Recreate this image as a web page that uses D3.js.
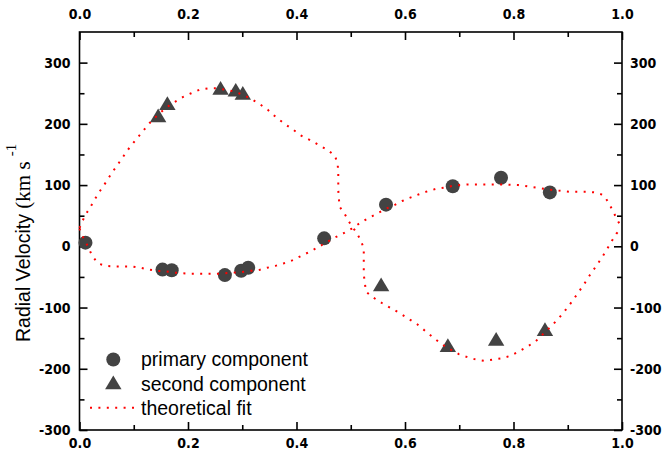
<!DOCTYPE html>
<html>
<head>
<meta charset="utf-8">
<script src="https://cdn.jsdelivr.net/npm/d3@7"></script>
<style>
  html, body { margin: 0; padding: 0; background: #fff; }
  svg { display: block; }
  .tick text { font-family: "Liberation Sans Narrow", "Arial Narrow", "DejaVu Sans Condensed", sans-serif; font-weight: bold; font-size: 14px; fill: #000; }
  .ttl-sans { font-family: "Liberation Sans", Arial, sans-serif; }
  .ttl-serif { font-family: "Liberation Serif", "Times New Roman", "DejaVu Serif", serif; }
</style>
</head>
<body>
<svg id="chart" width="663" height="456"></svg>
<script>
// Orbital phase / radial velocity measurements
const primaryPhase = [0.011, 0.153, 0.170, 0.268, 0.298, 0.311, 0.451, 0.565, 0.688, 0.777, 0.867];
const primaryRV    = [6, -38, -39, -47, -40, -35, 13, 68, 98, 112, 88];

const secondPhase = [0.145, 0.162, 0.260, 0.288, 0.301, 0.556, 0.679, 0.768, 0.858];
const secondRV    = [211, 231, 256, 253, 248, -65, -164, -154, -138];

// Theoretical fit, secondary branch
const fitSecPhase = [0.000, 0.010, 0.020, 0.029, 0.039, 0.049, 0.059, 0.070, 0.081, 0.092, 0.104, 0.117, 0.129, 0.145, 0.159, 0.176, 0.191, 0.206, 0.222, 0.237, 0.253, 0.268, 0.284, 0.300, 0.316, 0.331, 0.347, 0.362, 0.378, 0.393, 0.408, 0.424, 0.440, 0.456, 0.471, 0.476, 0.477, 0.477, 0.477, 0.478, 0.480, 0.490, 0.499, 0.510, 0.519, 0.524, 0.524, 0.524, 0.524, 0.526, 0.528, 0.542, 0.558, 0.574, 0.590, 0.606, 0.622, 0.637, 0.652, 0.668, 0.683, 0.699, 0.715, 0.731, 0.747, 0.762, 0.778, 0.794, 0.809, 0.825, 0.841, 0.856, 0.870, 0.884, 0.896, 0.908, 0.919, 0.930, 0.940, 0.951, 0.961, 0.971, 0.980, 0.990, 1.000];
const fitSecRV    = [30, 50, 64, 78, 92, 105, 119, 133, 147, 161, 174, 188, 201, 215, 226, 236, 244, 250, 256, 258, 258, 256, 253, 248, 241, 233, 223, 211, 200, 191, 181, 174, 166, 158, 148, 133, 119, 106, 92, 78, 64, 51, 37, 23, 9, -4, -18, -32, -46, -60, -74, -84, -93, -101, -109, -118, -127, -138, -149, -160, -168, -176, -181, -185, -187, -185, -183, -179, -172, -164, -155, -142, -130, -117, -104, -90, -76, -62, -48, -34, -21, -7, 7, 21, 30];

// Theoretical fit, primary branch
const fitPriPhase = [0.000, 0.008, 0.016, 0.023, 0.034, 0.049, 0.065, 0.081, 0.096, 0.112, 0.128, 0.143, 0.159, 0.175, 0.190, 0.206, 0.221, 0.237, 0.252, 0.268, 0.284, 0.299, 0.315, 0.330, 0.346, 0.361, 0.376, 0.392, 0.408, 0.424, 0.439, 0.454, 0.470, 0.486, 0.502, 0.517, 0.532, 0.548, 0.564, 0.580, 0.595, 0.611, 0.626, 0.642, 0.658, 0.674, 0.689, 0.716, 0.747, 0.778, 0.809, 0.841, 0.872, 0.903, 0.934, 0.950, 0.965, 0.975, 0.983, 0.991, 1.000];
const fitPriRV    = [29, 12, -1, -15, -28, -32, -33, -33, -33, -35, -38, -40, -41, -43, -44, -45, -45, -45, -45, -44, -43, -42, -40, -39, -35, -32, -28, -23, -16, -9, -2, 6, 14, 21, 29, 38, 46, 53, 61, 67, 74, 80, 85, 90, 94, 96, 99, 101, 101, 101, 100, 96, 92, 89, 89, 88, 84, 72, 58, 44, 29];

// Axis ticks
const xMajor = [0, 0.2, 0.4, 0.6, 0.8, 1.0];
const xMinor = [0.1, 0.3, 0.5, 0.7, 0.9];
const yMajor = [-300, -200, -100, 0, 100, 200, 300];
const yMinor = [-250, -150, -50, 50, 150, 250];

const legendLabels = ["primary component", "second component", "theoretical fit"];

const svg = d3.select("#chart");
const plotLeft = 79.5, plotRight = 622, plotTop = 32, plotBottom = 430;

const x = d3.scaleLinear().domain([0, 1]).range([plotLeft, plotRight]);
const y = d3.scaleLinear().domain([-300, 350]).range([plotBottom, plotTop]);

const markColor = "#434343";
const fitColor = "#ff0000";

// Axis frame
svg.append("rect")
  .attr("x", plotLeft).attr("y", plotTop)
  .attr("width", plotRight - plotLeft).attr("height", plotBottom - plotTop)
  .attr("fill", "none").attr("stroke", "#000").attr("stroke-width", 1.6);

function styleAxis(g) {
  g.select(".domain").remove();
  g.selectAll(".tick line").attr("stroke", "#000").attr("stroke-width", 1.6);
}

const fmtX = d3.format(".1f");
const fmtY = d => String(d);

svg.append("g").attr("transform", `translate(0,${plotBottom})`)
  .call(d3.axisBottom(x).tickValues(xMajor).tickFormat(fmtX).tickSize(-8).tickPadding(8))
  .call(styleAxis);
svg.append("g").attr("transform", `translate(0,${plotBottom})`)
  .call(d3.axisBottom(x).tickValues(xMinor).tickFormat("").tickSize(-5))
  .call(styleAxis);
svg.append("g").attr("transform", `translate(0,${plotTop})`)
  .call(d3.axisTop(x).tickValues(xMajor).tickFormat(fmtX).tickSize(-8).tickPadding(13))
  .call(styleAxis);
svg.append("g").attr("transform", `translate(0,${plotTop})`)
  .call(d3.axisTop(x).tickValues(xMinor).tickFormat("").tickSize(-5))
  .call(styleAxis);
svg.append("g").attr("transform", `translate(${plotLeft},0)`)
  .call(d3.axisLeft(y).tickValues(yMajor).tickFormat(fmtY).tickSize(-8).tickPadding(9))
  .call(styleAxis);
svg.append("g").attr("transform", `translate(${plotLeft},0)`)
  .call(d3.axisLeft(y).tickValues(yMinor).tickFormat("").tickSize(-5))
  .call(styleAxis);
svg.append("g").attr("transform", `translate(${plotRight},0)`)
  .call(d3.axisRight(y).tickValues(yMajor).tickFormat(fmtY).tickSize(-8).tickPadding(8))
  .call(styleAxis);
svg.append("g").attr("transform", `translate(${plotRight},0)`)
  .call(d3.axisRight(y).tickValues(yMinor).tickFormat("").tickSize(-5))
  .call(styleAxis);

// Y axis title: sans-serif quantity, serif units with superscript
const title = svg.append("text")
  .attr("transform", `translate(30,342) rotate(-90)`)
  .attr("fill", "#000");
title.append("tspan")
  .attr("class", "ttl-sans")
  .attr("font-size", 19.5)
  .text("Radial Velocity ");
title.append("tspan")
  .attr("class", "ttl-serif")
  .attr("font-size", 21)
  .text("(km s ");
title.append("tspan")
  .attr("class", "ttl-serif")
  .attr("font-size", 15)
  .attr("dy", -14)
  .text("-1");

// Data markers
const triPath = "M0,-8.5L8.2,5.2L-8.2,5.2Z";

svg.append("g").selectAll("circle")
  .data(primaryPhase.map((p, i) => [p, primaryRV[i]]))
  .join("circle")
  .attr("cx", d => x(d[0])).attr("cy", d => y(d[1]))
  .attr("r", 7).attr("fill", markColor);

svg.append("g").selectAll("path")
  .data(secondPhase.map((p, i) => [p, secondRV[i]]))
  .join("path")
  .attr("d", triPath)
  .attr("transform", d => `translate(${x(d[0])},${y(d[1])})`)
  .attr("fill", markColor);

// Dotted theoretical curves
const line = d3.line().x(d => x(d[0])).y(d => y(d[1]));
[[fitSecPhase, fitSecRV], [fitPriPhase, fitPriRV]].forEach(([ph, rv]) => {
  svg.append("path")
    .datum(ph.map((p, i) => [p, rv[i]]))
    .attr("d", line)
    .attr("fill", "none")
    .attr("stroke", fitColor)
    .attr("stroke-width", 2)
    .attr("stroke-dasharray", "2,6.4");
});

// Legend
const legend = svg.append("g")
  .attr("font-family", "'Liberation Sans', Arial, sans-serif")
  .attr("font-size", 19.5)
  .attr("fill", "#000");
legend.append("circle").attr("cx", 113.3).attr("cy", 359.5).attr("r", 7).attr("fill", markColor);
legend.append("path").attr("d", triPath).attr("transform", "translate(113.3,384)").attr("fill", markColor);
legend.append("line")
  .attr("x1", 90).attr("x2", 136).attr("y1", 407.7).attr("y2", 407.7)
  .attr("stroke", fitColor).attr("stroke-width", 2).attr("stroke-dasharray", "2,6.4");
legendLabels.forEach((t, i) => {
  legend.append("text").attr("x", 141).attr("y", 366 + i * 24.5).text(t);
});
</script>
</body>
</html>
